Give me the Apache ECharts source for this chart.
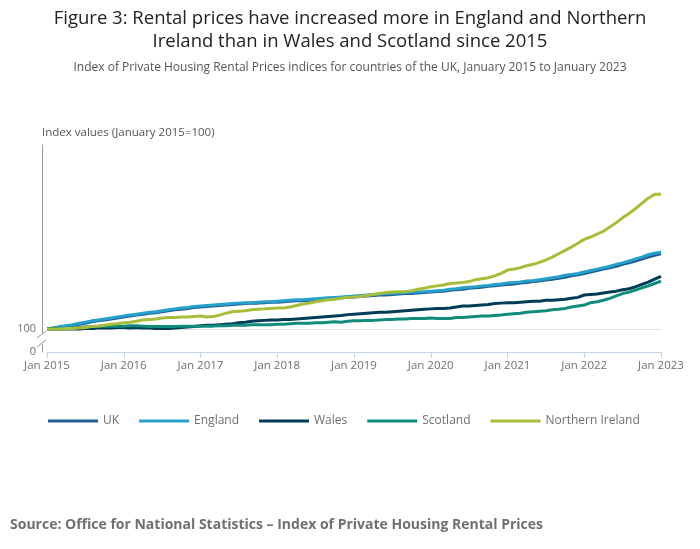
<!DOCTYPE html>
<html>
<head>
<meta charset="utf-8">
<script src="https://cdn.jsdelivr.net/npm/echarts@6/dist/echarts.min.js"></script>
<style>
  html, body { margin: 0; padding: 0; background: #fff; }
  #chart { width: 700px; height: 549px; }
</style>
</head>
<body>
<div id="chart"></div>
<script>
// monthly months, Jan 2015 .. Jan 2023
var years = [2015, 2016, 2017, 2018, 2019, 2020, 2021, 2022, 2023];
var months = [];
years.forEach(function (y) {
  for (var m = 1; m <= 12; m++) {
    if (y === 2023 && m > 1) break;
    months.push((m < 10 ? '0' : '') + m + '-' + y);
  }
});

// index values (January 2015 = 100)
var uk = [
  100.0,100.2,100.4,100.6,100.8,101.0,101.2,101.5,101.7,101.9,102.1,102.3,
  102.5,102.7,102.9,103.1,103.3,103.4,103.6,103.8,104.0,104.1,104.3,104.5,
  104.6,104.7,104.8,104.9,105.0,105.1,105.2,105.3,105.4,105.4,105.5,105.6,
  105.6,105.7,105.8,105.9,105.9,106.0,106.1,106.2,106.3,106.4,106.5,106.6,
  106.7,106.8,106.9,107.0,107.1,107.1,107.2,107.3,107.4,107.4,107.5,107.6,
  107.7,107.8,107.9,108.1,108.2,108.3,108.5,108.6,108.7,108.9,109.0,109.2,
  109.3,109.4,109.6,109.7,109.9,110.0,110.2,110.4,110.6,110.8,111.1,111.3,
  111.6,111.9,112.2,112.5,112.8,113.1,113.5,113.8,114.2,114.6,115.0,115.4,
  115.7
];
var england = [
  100.0,100.2,100.5,100.7,100.9,101.2,101.4,101.7,101.9,102.1,102.3,102.5,
  102.7,102.9,103.1,103.3,103.5,103.6,103.8,104.0,104.2,104.4,104.5,104.7,
  104.8,104.9,105.0,105.1,105.2,105.3,105.4,105.5,105.5,105.6,105.7,105.7,
  105.8,105.9,106.0,106.1,106.1,106.2,106.3,106.4,106.5,106.6,106.7,106.8,
  106.9,107.0,107.1,107.2,107.3,107.4,107.4,107.5,107.6,107.7,107.7,107.8,
  107.9,108.0,108.1,108.3,108.4,108.6,108.7,108.8,109.0,109.1,109.3,109.4,
  109.6,109.7,109.8,110.0,110.1,110.3,110.5,110.7,110.9,111.2,111.4,111.6,
  111.9,112.2,112.5,112.8,113.1,113.5,113.8,114.2,114.6,115.0,115.5,115.8,
  116.0
];
var wales = [
  100.0,100.0,100.0,100.0,100.0,100.0,100.1,100.1,100.2,100.2,100.2,100.3,
  100.3,100.2,100.3,100.2,100.2,100.1,100.1,100.1,100.2,100.3,100.4,100.5,
  100.7,100.8,100.8,100.9,101.0,101.1,101.3,101.4,101.6,101.7,101.8,101.9,
  101.9,102.0,102.0,102.1,102.2,102.3,102.4,102.5,102.6,102.7,102.8,103.0,
  103.1,103.2,103.3,103.4,103.5,103.5,103.6,103.7,103.8,103.9,104.0,104.1,
  104.2,104.3,104.3,104.4,104.6,104.8,104.8,104.9,105.0,105.1,105.3,105.4,
  105.5,105.5,105.6,105.7,105.8,105.8,106.0,106.0,106.1,106.2,106.4,106.6,
  107.1,107.2,107.3,107.5,107.7,107.9,108.2,108.4,108.8,109.3,109.8,110.4,
  111.0
];
var scotland = [
  100.0,100.0,100.0,100.1,100.2,100.3,100.4,100.5,100.6,100.6,100.6,100.6,
  100.6,100.7,100.7,100.6,100.5,100.5,100.5,100.5,100.5,100.6,100.6,100.6,
  100.6,100.6,100.6,100.7,100.7,100.8,100.8,100.8,100.9,100.9,100.9,100.9,
  101.0,101.0,101.1,101.2,101.2,101.2,101.3,101.3,101.4,101.5,101.4,101.6,
  101.7,101.7,101.8,101.8,101.9,102.0,102.0,102.1,102.1,102.2,102.2,102.2,
  102.3,102.2,102.2,102.2,102.4,102.4,102.5,102.6,102.7,102.7,102.8,102.9,
  103.1,103.2,103.3,103.5,103.6,103.7,103.8,104.0,104.1,104.3,104.6,104.8,
  105.0,105.5,105.7,106.0,106.4,106.9,107.4,107.7,108.1,108.6,109.0,109.5,
  110.0
];
var northernIreland = [
  100.0,100.0,100.0,100.1,100.1,100.2,100.3,100.5,100.6,100.8,101.0,101.1,
  101.3,101.4,101.6,101.9,102.0,102.1,102.3,102.4,102.4,102.5,102.5,102.6,
  102.7,102.5,102.6,102.9,103.3,103.6,103.7,103.8,104.0,104.1,104.2,104.3,
  104.4,104.4,104.6,104.9,105.2,105.4,105.7,105.9,106.1,106.2,106.4,106.6,
  106.7,106.8,107.0,107.2,107.4,107.6,107.7,107.8,107.8,108.0,108.3,108.5,
  108.8,109.0,109.2,109.5,109.6,109.7,109.9,110.3,110.5,110.7,111.1,111.6,
  112.3,112.5,112.8,113.2,113.5,113.9,114.4,115.0,115.7,116.4,117.1,117.9,
  118.7,119.2,119.8,120.4,121.3,122.2,123.2,124.1,125.1,126.2,127.3,128.1,
  128.1
];

var seriesNames = ['UK', 'England', 'Wales', 'Scotland', 'Northern Ireland'];
var seriesData = [uk, england, wales, scotland, northernIreland];
var seriesColors = ['#206095', '#27a0cc', '#003c57', '#118c7b', '#a8bd3a'];

var chart = echarts.init(document.getElementById('chart'));
var font = '"Open Sans", sans-serif';

var option = {
  animation: false,
  textStyle: { fontFamily: font },
  title: [
    {
      text: 'Index of Private Housing Rental Prices indices for countries of the UK, January 2015 to January 2023',
      left: 'center', top: 57,
      textStyle: { fontSize: 12, fontWeight: 'normal', color: '#555', fontFamily: font }
    },
    {
      text: 'Source: Office for National Statistics – Index of Private Housing Rental Prices',
      left: 5, top: 513,
      textStyle: { fontSize: 14, fontWeight: 'bold', color: '#707070', fontFamily: font }
    }
  ],
  legend: {
    data: seriesNames,
    left: 43, top: 410,
    icon: 'rect', itemWidth: 50, itemHeight: 3, itemGap: 20,
    textStyle: { color: '#707070', fontSize: 12, fontFamily: font }
  },
  grid: { left: 47, right: 39, top: 145, bottom: 197 },
  xAxis: {
    type: 'category',
    data: months,
    boundaryGap: false,
    axisLine: { lineStyle: { color: '#c5d3e6', width: 1 } },
    axisTick: { interval: 11, length: 6, lineStyle: { color: '#c5d3e6' } },
    axisLabel: {
      interval: 11, color: '#707070', fontSize: 11.5, margin: 8,
      formatter: function (v) { return 'Jan ' + v.slice(3); }
    },
    splitLine: { show: false }
  },
  yAxis: {
    type: 'value',
    min: 95.2, max: 138.4, interval: 4.8,
    offset: 5,
    name: 'Index values (January 2015=100)',
    nameLocation: 'end',
    nameGap: 6,
    nameTextStyle: { color: '#555', fontSize: 11.5, align: 'left' },
    axisLine: { show: true, lineStyle: { color: '#999' } },
    axisTick: { show: false },
    axisLabel: {
      color: '#707070', fontSize: 11, margin: 6,
      formatter: function (v) {
        var r = Math.round(v * 10) / 10;
        if (r === 95.2) return '0';
        if (r === 100) return '100';
        return '';
      }
    },
    splitLine: {
      show: true,
      lineStyle: { color: ['transparent', '#e0e0e0', 'transparent', 'transparent', 'transparent', 'transparent', 'transparent', 'transparent', 'transparent', 'transparent'] }
    }
  },
  graphic: [
    {
      type: 'text', x: 350, y: 7, z: 100,
      style: {
        text: 'Figure 3: Rental prices have increased more in England and Northern\nIreland than in Wales and Scotland since 2015',
        align: 'center', verticalAlign: 'top',
        font: '18.5px "Open Sans", sans-serif', lineHeight: 23, fill: '#222'
      }
    },
    { type: 'rect', shape: { x: 38, y: 334, width: 8, height: 10 }, style: { fill: '#fff' }, z: 100 },
    { type: 'line', shape: { x1: 37, y1: 338, x2: 46, y2: 331 }, style: { stroke: '#999', lineWidth: 1 }, z: 101 },
    { type: 'line', shape: { x1: 37, y1: 347, x2: 46, y2: 340 }, style: { stroke: '#999', lineWidth: 1 }, z: 101 }
  ],
  series: seriesNames.map(function (n, i) {
    return {
      name: n, type: 'line', data: seriesData[i],
      showSymbol: false, symbol: 'none',
      lineStyle: { width: 3, color: seriesColors[i] },
      itemStyle: { color: seriesColors[i] }
    };
  })
};
chart.setOption(option);
</script>
</body>
</html>
